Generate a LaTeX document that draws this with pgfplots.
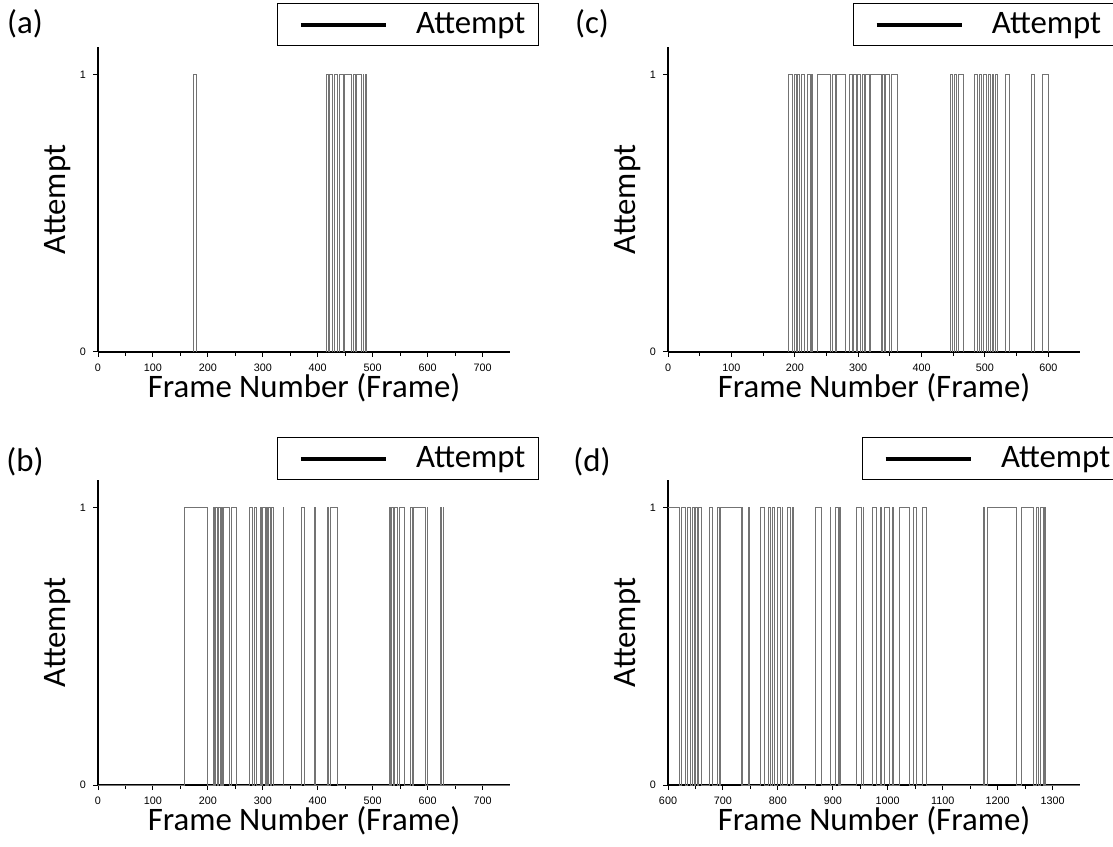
\documentclass[border=0pt]{standalone}
\usepackage{fontspec}
\setmainfont{Carlito}
\newfontfamily\arial{Liberation Sans}
\usepackage{pgfplots}
\pgfplotsset{compat=1.18}
\pgfplotsset{
 panel/.style={
  scale only axis, width=206pt, height=152.5pt,
  axis lines*=left, axis line style={black, line width=0.6pt},
  ymin=0, ymax=1.1, ytick={0,1},
  minor x tick num=1,
  tick align=outside, major tick length=2.5pt, minor tick length=2pt,
  tick style={black, line width=0.5pt},
  every tick label/.append style={font=\arial\fontsize{5.4}{6}\selectfont},
  /pgf/number format/assume math mode=true,
  /pgf/number format/1000 sep={},
  label style={font=\fontsize{16.4}{18}\selectfont},
  xlabel={Frame Number (Frame)}, ylabel={Attempt},
  xlabel style={at={(axis description cs:0.5,-0.118)}, anchor=center},
  ylabel style={at={(axis description cs:-0.098,0.5)}, anchor=center},
  legend image code/.code={\draw[black,line width=2pt] (0pt,0pt) -- (42.5pt,0pt); \path (-11.5pt,0pt) (57.5pt,0pt);},
  legend style={draw=black, line width=0.5pt, inner xsep=0pt, inner ysep=3.5pt, font=\fontsize{16.4}{18}\selectfont, nodes={inner xsep=0pt, inner ysep=1pt}},
 },
 pulse/.style={const plot, color=black!55, line width=0.45pt, mark=none},
}
\begin{document}
\begin{tikzpicture}
\useasboundingbox (0,0) rectangle (556.5pt,423pt);
% (a)
\begin{axis}[panel, at={(49pt,247pt)}, anchor=south west,
  xmin=0, xmax=750, xtick={0,100,...,700},
  legend style={at={(0.434,1.144)}, anchor=north west}]
\addplot[pulse] coordinates {(0,0) (174,1) (179,0) (416,1) (420,0) (422,1) (427,0) (431,1) (436,0) (440,1) (446,0) (449,1) (461,0) (465,1) (469,0) (471,1) (479,0) (483,1) (484,0) (487,1) (488,0) (750,0)};
\addlegendentry{Attempt\hspace*{6.5pt}}
\end{axis}
% (b)
\begin{axis}[panel, at={(49pt,30.5pt)}, anchor=south west,
  xmin=0, xmax=750, xtick={0,100,...,700},
  legend style={at={(0.434,1.141)}, anchor=north west}]
\addplot[pulse] coordinates {(0,0) (157,1) (200,0) (210,1) (212,0) (214,1) (217,0) (219,1) (222,0) (224,1) (226,0) (228,1) (239,0) (243,1) (252,0) (276,1) (281,0) (285,1) (288,0) (295,1) (297,0) (299,1) (304,0) (306,1) (309,0) (311,1) (314,0) (316,1) (319,0) (337,1) (338,0) (370,1) (376,0) (394,1) (395,0) (418,1) (420,0) (423,1) (436,0) (530,1) (533,0) (535,1) (537,0) (539,1) (545,0) (548,1) (557,0) (569,1) (572,0) (575,1) (597,0) (599,1) (600,0) (624,1) (626,0) (628,1) (629,0) (750,0)};
\addlegendentry{Attempt\hspace*{6.5pt}}
\end{axis}
% (c)
\begin{axis}[panel, at={(334pt,247pt)}, anchor=south west,
  xmin=0, xmax=650, xtick={0,100,...,600},
  legend style={at={(0.448,1.144)}, anchor=north west}]
\addplot[pulse] coordinates {(0,0) (190,1) (196,0) (200,1) (202,0) (204,1) (207,0) (210,1) (215,0) (220,1) (224,0) (226,1) (228,0) (236,1) (257,0) (260,1) (264,0) (266,1) (280,0) (286,1) (291,0) (293,1) (297,0) (299,1) (304,0) (306,1) (310,0) (312,1) (318,0) (320,1) (336,0) (338,1) (341,0) (343,1) (349,0) (352,1) (362,0) (445,1) (449,0) (452,1) (455,0) (458,1) (466,0) (484,1) (488,0) (491,1) (494,0) (498,1) (503,0) (506,1) (509,0) (512,1) (514,0) (517,1) (520,0) (532,1) (538,0) (573,1) (578,0) (590,1) (600,0) (650,0)};
\addlegendentry{Attempt\hspace*{6.5pt}}
\end{axis}
% (d)
\begin{axis}[panel, at={(334pt,30.5pt)}, anchor=south west,
  xmin=600, xmax=1350, xtick={600,700,...,1300},
  legend style={at={(0.47,1.141)}, anchor=north west}]
\addplot[pulse] coordinates {(600,1) (621,0) (624,1) (632,0) (636,1) (640,0) (645,1) (648,0) (650,1) (654,0) (656,1) (660,0) (675,1) (681,0) (690,1) (693,0) (695,1) (733,0) (735,1) (736,0) (747,1) (748,0) (768,1) (775,0) (783,1) (787,0) (790,1) (793,0) (799,1) (805,0) (808,1) (809,0) (817,1) (823,0) (826,1) (829,0) (868,1) (880,0) (895,1) (896,0) (904,1) (910,0) (913,1) (914,0) (943,1) (952,0) (955,1) (956,0) (973,1) (979,0) (986,1) (989,0) (994,1) (1004,0) (1009,1) (1010,0) (1022,1) (1040,0) (1046,1) (1052,0) (1064,1) (1070,0) (1175,1) (1176,0) (1181,1) (1234,0) (1244,1) (1266,0) (1271,1) (1275,0) (1278,1) (1284,0) (1286,1) (1287,0) (1350,0)};
\addlegendentry{Attempt\hspace*{6.5pt}}
\end{axis}
\node[font=\fontsize{16.4}{18}\selectfont] at (12.5pt,411pt) {(a)};
\node[font=\fontsize{16.4}{18}\selectfont] at (12.5pt,192pt) {(b)};
\node[font=\fontsize{16.4}{18}\selectfont] at (296pt,411pt) {(c)};
\node[font=\fontsize{16.4}{18}\selectfont] at (296pt,192pt) {(d)};
\end{tikzpicture}
\end{document}
